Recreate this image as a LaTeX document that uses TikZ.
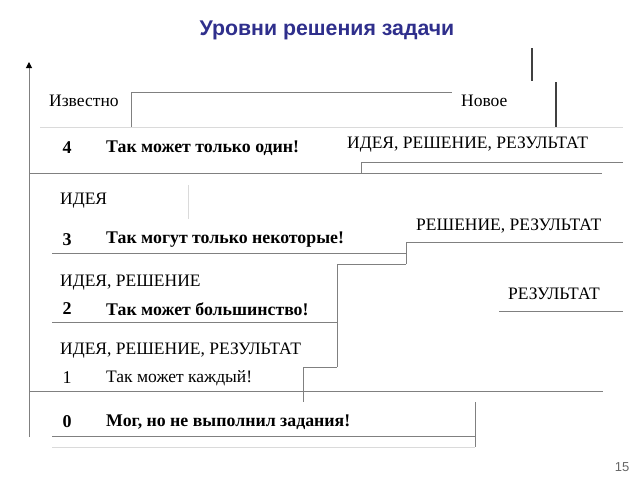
\documentclass[tikz,border=0pt]{standalone}
\usepackage{fontspec}
\setmainfont{Liberation Serif}
\newfontfamily\titlefont{Liberation Sans}
\usetikzlibrary{arrows.meta}
\definecolor{titleblue}{HTML}{2F2F8C}
\definecolor{linegray}{HTML}{808080}
\definecolor{faintgray}{HTML}{DADADA}
\begin{document}
\begin{tikzpicture}[x=1pt,y=-1pt,
  ln/.style={draw=linegray,line width=1pt},
  fl/.style={draw=faintgray,line width=1pt},
  dk/.style={draw=black!75,line width=1.1pt},
  txt/.style={anchor=west,inner sep=0pt,font=\fontsize{17.5}{18}\selectfont},
  btxt/.style={anchor=west,inner sep=0pt,font=\fontsize{17.8}{18}\selectfont\bfseries},
  num/.style={anchor=center,inner sep=0pt,font=\fontsize{18}{19}\selectfont\bfseries}]
\useasboundingbox (0,0) rectangle (640,480);
% title
\node[font=\titlefont\fontsize{21.3}{22}\selectfont\bfseries,text=titleblue,inner sep=0pt] (title) at (327,30) {Уровни решения задачи};
\node[font=\titlefont\fontsize{13}{14}\selectfont,text=black!60,inner sep=0pt] (page) at (622,467) {15};
% axis
\coordinate (ax0) at (29,437);
\coordinate (ax1) at (29,62);
\draw[ln,-{Triangle[length=6pt,width=6pt,fill=black,color=black]}] (ax0) -- (ax1);
% top box
\draw[ln] (131,127) -- (131,92) -- (452,92);
\draw[dk] (532,48) -- (532,81);
\draw[dk] (556,82) -- (556,127);
\draw[fl] (40,127) -- (623,127);
% level 4 separators
\draw[ln] (29,173) -- (602,173);
\draw[ln] (361,173) -- (361,162) -- (623,162);
\draw[fl] (188,185) -- (188,219);
% level 3
\draw[ln] (52,253) -- (406,253);
\draw[ln] (406,264) -- (406,242) -- (623,242);
\draw[ln] (406,264) -- (337,264) -- (337,367);
% level 2
\draw[ln] (52,322) -- (337,322);
\draw[ln] (499,311) -- (623,311);
\draw[ln] (337,367) -- (303,367) -- (303,402);
% level 1
\draw[ln] (29,391) -- (603,391);
% level 0
\draw[ln] (52,436) -- (475,436);
\draw[ln] (475,402) -- (475,447);
\draw[fl] (52,447) -- (475,447);
% texts
\node[txt] (izv) at (49,101) {Известно};
\node[txt] (nov) at (461,101) {Новое};
\node[num] (n4) at (67,148) {4};
\node[btxt] (t4) at (106,148) {Так может только один!};
\node[txt] (r4) at (347,145) {ИДЕЯ, РЕШЕНИЕ, РЕЗУЛЬТАТ};
\node[txt] (i3) at (60,201) {ИДЕЯ};
\node[num] (n3) at (67,240) {3};
\node[btxt] (t3) at (106,240) {Так могут только некоторые!};
\node[txt] (r3) at (416,226) {РЕШЕНИЕ, РЕЗУЛЬТАТ};
\node[txt] (i2) at (60,283) {ИДЕЯ, РЕШЕНИЕ};
\node[num] (n2) at (67,309) {2};
\node[btxt] (t2) at (106,309) {Так может большинство!};
\node[txt] (r2) at (508,294) {РЕЗУЛЬТАТ};
\node[txt] (i1) at (60,351) {ИДЕЯ, РЕШЕНИЕ, РЕЗУЛЬТАТ};
\node[num,font=\fontsize{18}{19}\selectfont] (n1) at (67,378) {1};
\node[txt] (t1) at (106,378) {Так может каждый!};
\node[num] (n0) at (67,422) {0};
\node[btxt] (t0) at (106,422) {Мог, но не выполнил задания!};
\end{tikzpicture}
\end{document}
